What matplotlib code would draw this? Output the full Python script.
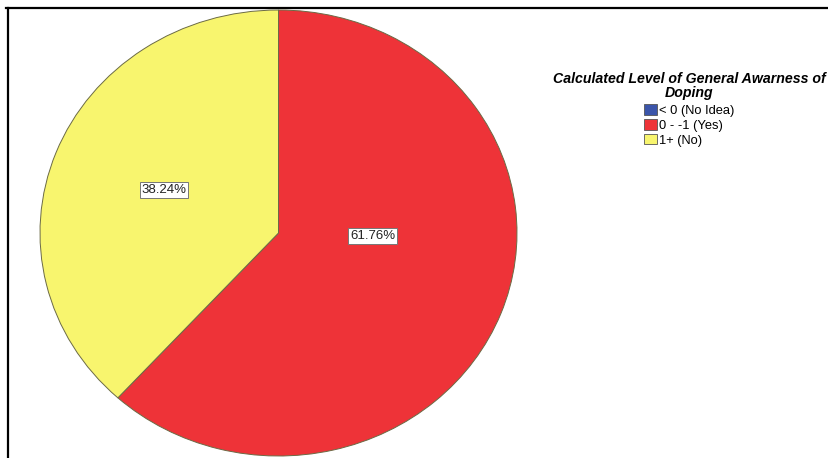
import matplotlib
matplotlib.use("Agg")
import matplotlib.pyplot as plt
from matplotlib.patches import Patch
from matplotlib.lines import Line2D

plt.rcParams['font.family'] = ['Liberation Sans', 'DejaVu Sans']

categories = ["< 0 (No Idea)", "0 - -1 (Yes)", "1+ (No)"]
percentages = [0.0, 61.76, 38.24]
colors = ["#3B55AA", "#EE3338", "#F8F56E"]
legend_title = "Calculated Level of General Awarness of\nDoping"

fig = plt.figure(figsize=(8.29, 4.58), dpi=100)
W, H = 829, 458

# frame lines (top and left)
fig.add_artist(Line2D([6 / W, 1.0], [1 - 8 / H, 1 - 8 / H], transform=fig.transFigure,
                      color="black", lw=1.6))
fig.add_artist(Line2D([8 / W, 8 / W], [0, 1 - 8 / H], transform=fig.transFigure,
                      color="black", lw=1.6))

# pie axes (elliptical as in reference)
left, right, top, bottom = 40, 517, 10, 456
ax = fig.add_axes([left / W, 1 - bottom / H, (right - left) / W, (bottom - top) / H])

vals = [v for v in percentages if v > 0]
cols = [c for v, c in zip(percentages, colors) if v > 0]
wedges, _ = ax.pie(vals, colors=cols, startangle=90, counterclock=False, radius=1,
                   wedgeprops=dict(edgecolor="#6B6A45", linewidth=0.7))
ax.set_aspect("auto")
ax.set_xlim(-1, 1)
ax.set_ylim(-1, 1)
ax.axis("off")

# percentage labels
label_pos = {61.76: (0.395, -0.013), 38.24: (-0.48, 0.193)}
for v in vals:
    x, y = label_pos[v]
    ax.text(x, y, f"{v:.2f}%", ha="center", va="center", fontsize=9.5, color="#222222",
            bbox=dict(boxstyle="square,pad=0.15", facecolor="white", edgecolor="#777777",
                      linewidth=0.7))

# legend
handles = [Patch(facecolor=c, edgecolor="#555555", linewidth=0.6) for c in colors]
leg = fig.legend(handles, categories, title=legend_title, loc="upper center",
                 bbox_to_anchor=(689 / W, 1 - 63 / H), frameon=False,
                 fontsize=9.3, handlelength=1.0, handleheight=0.9, handletextpad=0.15,
                 labelspacing=0.15, borderpad=0.2,
                 title_fontproperties={"weight": "bold", "style": "italic", "size": 10.2})
leg.get_title().set_multialignment("center")
leg.get_title().set_linespacing(1.0)
leg._legend_box.sep = 3

fig.savefig("out.png", dpi=100)
